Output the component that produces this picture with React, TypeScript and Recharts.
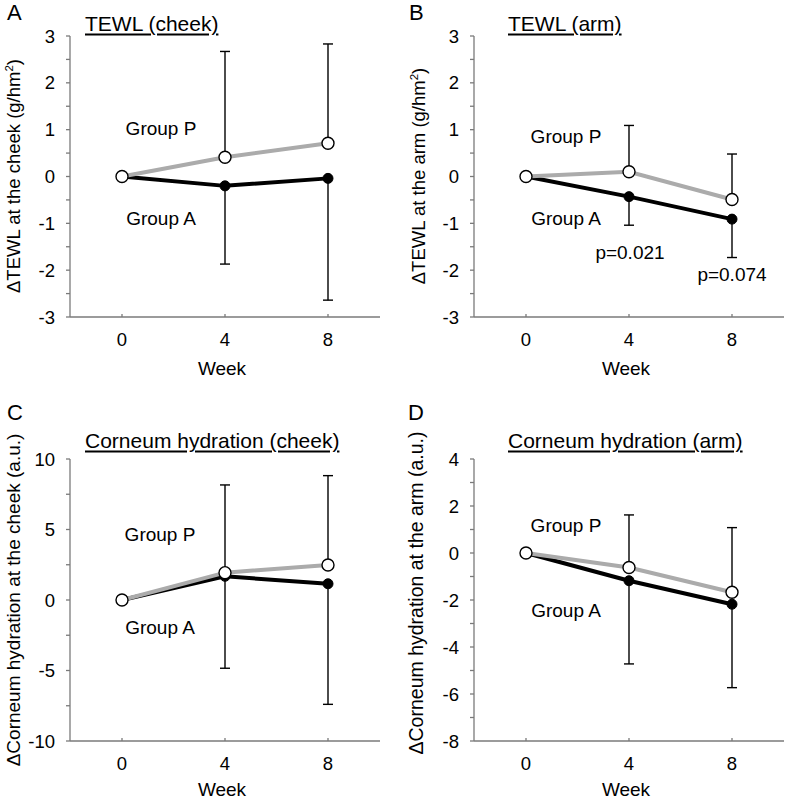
import React from 'react';
import { LineChart, Line, XAxis, YAxis, ErrorBar } from 'recharts';

const weeks = ['0', '4', '8'];

// A: TEWL (cheek)
const tewlCheekP = [0, 0.41, 0.71];
const tewlCheekPErr = [0, 2.26, 2.12];
const tewlCheekA = [0, -0.2, -0.04];
const tewlCheekAErr = [0, 1.67, 2.6];

// B: TEWL (arm)
const tewlArmP = [0, 0.1, -0.49];
const tewlArmPErr = [0, 0.99, 0.97];
const tewlArmA = [0, -0.43, -0.91];
const tewlArmAErr = [0, 0.61, 0.82];

// C: Corneum hydration (cheek)
const hydCheekP = [0, 1.94, 2.48];
const hydCheekPErr = [0, 6.22, 6.34];
const hydCheekA = [0, 1.68, 1.15];
const hydCheekAErr = [0, 6.52, 8.55];

// D: Corneum hydration (arm)
const hydArmP = [0, -0.62, -1.67];
const hydArmPErr = [0, 2.24, 2.75];
const hydArmA = [0, -1.18, -2.18];
const hydArmAErr = [0, 3.54, 3.55];

const tewlTicks = [-3, -2.5, -2, -1.5, -1, -0.5, 0, 0.5, 1, 1.5, 2, 2.5, 3];
const hydCheekTicks = [-10, -7.5, -5, -2.5, 0, 2.5, 5, 7.5, 10];
const hydArmTicks = [-8, -7, -6, -5, -4, -3, -2, -1, 0, 1, 2, 3, 4];

const FONT = 'Arial, "Liberation Sans", Helvetica, sans-serif';
const AXIS = '#7a7a7a';

const buildRows = (p: number[], pErr: number[], a: number[], aErr: number[]) =>
  weeks.map((w, i) => ({
    week: w,
    p: p[i],
    a: a[i],
    pErr: [0, pErr[i]],
    aErr: [aErr[i], 0],
  }));

type Note = { text: string; x: number; y: number };

interface PanelProps {
  left: number;
  top: number;
  width: number;
  height: number;
  margin: { top: number; right: number; bottom: number; left: number };
  rows: any[];
  ticks: number[];
  labelStep: number;
}

const Panel: React.FC<PanelProps> = ({ left, top, width, height, margin, rows, ticks, labelStep }) => (
  <div style={{ position: 'absolute', left, top }}>
    <LineChart width={width} height={height} data={rows} margin={margin}>
      <XAxis
        dataKey="week"
        padding={{ left: 52, right: 52 }}
        height={40}
        stroke={AXIS}
        strokeWidth={1.3}
        tickSize={-3}
        tickMargin={19}
        tick={{ fill: '#000', fontSize: 18.5, fontFamily: FONT }}
      />
      <YAxis
        type="number"
        domain={[ticks[0], ticks[ticks.length - 1]]}
        ticks={ticks}
        interval={0}
        width={50}
        stroke={AXIS}
        strokeWidth={1.3}
        tickSize={4}
        tickMargin={11}
        allowDataOverflow
        tickFormatter={(v: number) => (Math.abs(v / labelStep - Math.round(v / labelStep)) < 1e-6 ? String(v) : '')}
        tick={{ fill: '#000', fontSize: 18.5, fontFamily: FONT }}
      />
      <Line
        dataKey="a"
        stroke="#000"
        strokeWidth={4}
        isAnimationActive={false}
        dot={{ r: 5, fill: '#000', stroke: '#000', strokeWidth: 1 }}
      >
        <ErrorBar dataKey="aErr" width={5} stroke="#000" strokeWidth={1.4} />
      </Line>
      <Line
        dataKey="p"
        stroke="#ababab"
        strokeWidth={4}
        isAnimationActive={false}
        dot={{ r: 6, fill: '#fff', stroke: '#000', strokeWidth: 1.4 }}
      >
        <ErrorBar dataKey="pErr" width={5} stroke="#000" strokeWidth={1.4} />
      </Line>
    </LineChart>
  </div>
);

const Txt: React.FC<{ x: number; y: number; size: number; children: React.ReactNode; underline?: boolean; anchor?: 'left' | 'center' }> = ({
  x,
  y,
  size,
  children,
  underline,
  anchor = 'center',
}) => (
  <div
    style={{
      position: 'absolute',
      left: x,
      top: y,
      transform: anchor === 'center' ? 'translate(-50%, -50%)' : 'translate(0, -50%)',
      fontSize: size,
      lineHeight: 1,
      whiteSpace: 'nowrap',
      textDecoration: underline ? 'underline' : 'none',
      textUnderlineOffset: 3,
      color: '#000',
    }}
  >
    {children}
  </div>
);

const VTxt: React.FC<{ x: number; y: number; size: number; children: React.ReactNode }> = ({ x, y, size, children }) => (
  <div
    style={{
      position: 'absolute',
      left: x,
      top: y,
      transform: 'translate(-50%, -50%) rotate(-90deg)',
      fontSize: size,
      lineHeight: 1,
      whiteSpace: 'nowrap',
      color: '#000',
    }}
  >
    {children}
  </div>
);

const sup2 = <sup style={{ fontSize: '0.62em', lineHeight: 0, verticalAlign: '0.55em' }}>2</sup>;

const notesA: Note[] = [
  { text: 'Group P', x: 161, y: 128 },
  { text: 'Group A', x: 161, y: 218 },
];
const notesB: Note[] = [
  { text: 'Group P', x: 566, y: 136 },
  { text: 'Group A', x: 566, y: 218 },
  { text: 'p=0.021', x: 630, y: 252 },
  { text: 'p=0.074', x: 732, y: 274 },
];
const notesC: Note[] = [
  { text: 'Group P', x: 160, y: 534 },
  { text: 'Group A', x: 160, y: 627 },
];
const notesD: Note[] = [
  { text: 'Group P', x: 566, y: 525 },
  { text: 'Group A', x: 566, y: 610 },
];

export default function App() {
  const topMargin = { top: 36, bottom: 43 };
  const bottomMargin = { top: 59, bottom: 20 };
  return (
    <div
      style={{
        position: 'absolute',
        left: 0,
        top: 0,
        width: 787,
        height: 801,
        background: '#fff',
        fontFamily: FONT,
        overflow: 'hidden',
      }}
    >
      <Panel
        left={0}
        top={0}
        width={390}
        height={400}
        margin={{ ...topMargin, left: 20, right: 10 }}
        rows={buildRows(tewlCheekP, tewlCheekPErr, tewlCheekA, tewlCheekAErr)}
        ticks={tewlTicks}
        labelStep={1}
      />
      <Panel
        left={390}
        top={0}
        width={397}
        height={400}
        margin={{ ...topMargin, left: 34, right: 3 }}
        rows={buildRows(tewlArmP, tewlArmPErr, tewlArmA, tewlArmAErr)}
        ticks={tewlTicks}
        labelStep={1}
      />
      <Panel
        left={0}
        top={400}
        width={390}
        height={401}
        margin={{ ...bottomMargin, left: 20, right: 10 }}
        rows={buildRows(hydCheekP, hydCheekPErr, hydCheekA, hydCheekAErr)}
        ticks={hydCheekTicks}
        labelStep={5}
      />
      <Panel
        left={390}
        top={400}
        width={397}
        height={401}
        margin={{ ...bottomMargin, left: 34, right: 3 }}
        rows={buildRows(hydArmP, hydArmPErr, hydArmA, hydArmAErr)}
        ticks={hydArmTicks}
        labelStep={2}
      />

      {/* panel letters */}
      <Txt x={7} y={13} size={22} anchor="left">A</Txt>
      <Txt x={409} y={13} size={22} anchor="left">B</Txt>
      <Txt x={7} y={413} size={22} anchor="left">C</Txt>
      <Txt x={408} y={413} size={22} anchor="left">D</Txt>

      {/* titles */}
      <Txt x={85} y={23} size={21} anchor="left" underline>TEWL (cheek)</Txt>
      <Txt x={508} y={23} size={21} anchor="left" underline>TEWL (arm)</Txt>
      <Txt x={85} y={440} size={21} anchor="left" underline>Corneum hydration (cheek)</Txt>
      <Txt x={508} y={440} size={21} anchor="left" underline>Corneum hydration (arm)</Txt>

      {/* y-axis labels */}
      <VTxt x={14} y={176} size={18.5}>ΔTEWL at the cheek (g/hm{sup2})</VTxt>
      <VTxt x={419} y={176} size={18.5}>ΔTEWL at the arm (g/hm{sup2})</VTxt>
      <VTxt x={13} y={600} size={19}>ΔCorneum hydration at the cheek (a.u.)</VTxt>
      <VTxt x={417} y={593} size={19.5}>ΔCorneum hydration at the arm (a.u.)</VTxt>

      {/* x-axis labels */}
      <Txt x={222} y={368} size={19}>Week</Txt>
      <Txt x={626} y={368} size={19}>Week</Txt>
      <Txt x={222} y={789} size={19}>Week</Txt>
      <Txt x={626} y={789} size={19}>Week</Txt>

      {[...notesA, ...notesB, ...notesC, ...notesD].map((n, i) => (
        <Txt key={i} x={n.x} y={n.y} size={19}>
          {n.text}
        </Txt>
      ))}
    </div>
  );
}
